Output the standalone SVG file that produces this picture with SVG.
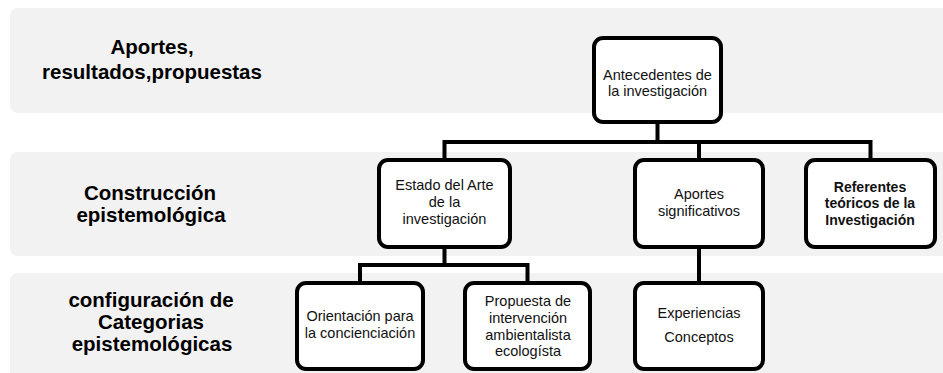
<svg xmlns="http://www.w3.org/2000/svg" width="943" height="373" viewBox="0 0 943 373">
<defs>
<style>
.band{fill:#f2f2f2}
.lbl{font-family:"Liberation Sans",Arial,sans-serif;font-weight:bold;font-size:20.5px;fill:#000;text-anchor:middle}
.box{fill:#fff;stroke:#000;stroke-width:4}
.t{font-family:"Liberation Sans",Arial,sans-serif;font-size:14.5px;fill:#111;text-anchor:middle}
.tb{font-family:"Liberation Sans",Arial,sans-serif;font-size:14px;font-weight:bold;fill:#111;text-anchor:middle}
.con{fill:none;stroke:#000;stroke-width:4}
</style>
</defs>
<rect width="943" height="373" fill="#fff"/>
<g id="bands">
<rect class="band" x="10" y="8" width="945" height="105" rx="8"/>
<rect class="band" x="10" y="152" width="945" height="104" rx="8"/>
<rect class="band" x="10" y="273" width="945" height="115" rx="8"/>
</g>
<g id="labels">
<text class="lbl" x="152" y="54">Aportes,</text>
<text class="lbl" x="152" y="79">resultados,propuestas</text>
<text class="lbl" x="150" y="200">Construcción</text>
<text class="lbl" x="151" y="222">epistemológica</text>
<text class="lbl" x="151" y="307">configuración de</text>
<text class="lbl" x="151" y="329">Categorias</text>
<text class="lbl" x="152" y="351">epistemológicas</text>
</g>
<g id="connectors">
<path class="con" d="M657.5 122 V142"/>
<path class="con" d="M444.5 160 V142 H870.5 V160"/>
<path class="con" d="M699 142 V160"/>
<path class="con" d="M444.5 247 V265"/>
<path class="con" d="M360 283 V265 H527.5 V283"/>
<path class="con" d="M699 247 V283"/>
</g>
<g id="antecedentes">
<rect class="box" x="594" y="38" width="127" height="84" rx="9"/>
<text class="t" x="657.5" y="80">Antecedentes de</text>
<text class="t" x="657.5" y="96">la investigación</text>
</g>
<g id="estado">
<rect class="box" x="379" y="160" width="131" height="87" rx="9"/>
<text class="t" x="444.5" y="190">Estado del Arte</text>
<text class="t" x="444.5" y="207">de la</text>
<text class="t" x="444.5" y="224">investigación</text>
</g>
<g id="aportes">
<rect class="box" x="635" y="160" width="128" height="87" rx="9"/>
<text class="t" x="699" y="199">Aportes</text>
<text class="t" x="699" y="216">significativos</text>
</g>
<g id="referentes">
<rect class="box" x="806" y="160" width="129" height="87" rx="9"/>
<text class="tb" x="870" y="192">Referentes</text>
<text class="tb" x="870" y="208">teóricos de la</text>
<text class="tb" x="870" y="225">Investigación</text>
</g>
<g id="orientacion">
<rect class="box" x="297" y="283" width="126" height="86" rx="9"/>
<text class="t" x="360" y="321">Orientación para</text>
<text class="t" x="360" y="338">la concienciación</text>
</g>
<g id="propuesta">
<rect class="box" x="465" y="283" width="125" height="86" rx="9"/>
<text class="t" x="528" y="306">Propuesta de</text>
<text class="t" x="528" y="323">intervención</text>
<text class="t" x="528" y="340">ambientalista</text>
<text class="t" x="528" y="356">ecologísta</text>
</g>
<g id="experiencias">
<rect class="box" x="635" y="283" width="128" height="86" rx="9"/>
<text class="t" x="699" y="318">Experiencias</text>
<text class="t" x="699" y="342">Conceptos</text>
</g>
</svg>
